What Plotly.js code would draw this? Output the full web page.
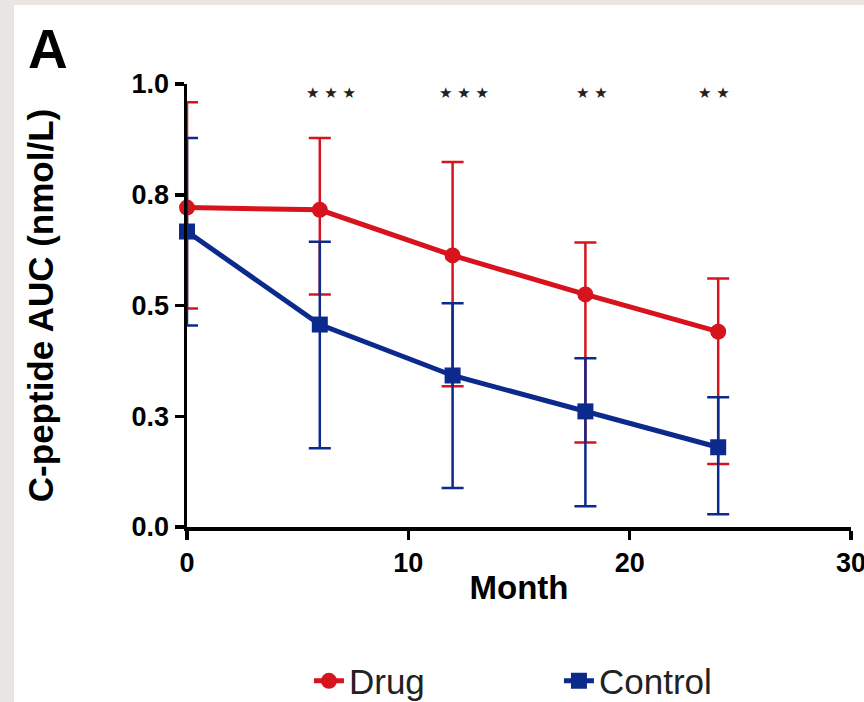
<!DOCTYPE html>
<html>
<head>
<meta charset="utf-8">
<script src="https://cdn.plot.ly/plotly-3.0.1.min.js"></script>
<style>
  html, body { margin: 0; padding: 0; background: #e8e5e2; width: 864px; height: 702px; overflow: hidden; }
  #chart { position: absolute; left: 14px; top: 5px; width: 850px; height: 697px; background: #ffffff; }
</style>
</head>
<body>
<div id="chart"></div>
<script>
// Data
var months = [0, 6, 12, 18, 24];

var drugMean  = [0.721, 0.716, 0.613, 0.525, 0.441];
var drugUpper = [0.959, 0.878, 0.824, 0.642, 0.561];
var drugLower = [0.493, 0.525, 0.318, 0.191, 0.142];

var ctrlMean  = [0.667, 0.457, 0.342, 0.261, 0.180];
var ctrlUpper = [0.878, 0.644, 0.505, 0.381, 0.293];
var ctrlLower = [0.455, 0.178, 0.088, 0.047, 0.029];

var sigMonths = [6.5, 12.5, 18.3, 23.8];
var sigLabels = ["★ ★ ★", "★ ★ ★", "★ ★", "★ ★"];
var sigY = 0.98;

var yTickVals = [0, 0.25, 0.5, 0.75, 1.0];
var yTickText = ["0.0", "0.3", "0.5", "0.8", "1.0"];
var xTickVals = [0, 10, 20, 30];

var RED = "#d7141e";
var BLUE = "#0c2a8c";
var FONT = "Liberation Sans, Arial, sans-serif";

function plus(u, m) { return u.map(function (v, i) { return +(v - m[i]).toFixed(3); }); }
function minus(l, m) { return l.map(function (v, i) { return +(m[i] - v).toFixed(3); }); }

var drug = {
  x: months, y: drugMean, name: "Drug", type: "scatter", mode: "lines+markers",
  line: { color: RED, width: 5 },
  marker: { color: RED, symbol: "circle", size: 16 },
  error_y: { type: "data", symmetric: false, array: plus(drugUpper, drugMean), arrayminus: minus(drugLower, drugMean),
             color: RED, thickness: 2.5, width: 11 },
  cliponaxis: false
};
var ctrl = {
  x: months, y: ctrlMean, name: "Control", type: "scatter", mode: "lines+markers",
  line: { color: BLUE, width: 5 },
  marker: { color: BLUE, symbol: "square", size: 16 },
  error_y: { type: "data", symmetric: false, array: plus(ctrlUpper, ctrlMean), arrayminus: minus(ctrlLower, ctrlMean),
             color: BLUE, thickness: 2.5, width: 11 },
  cliponaxis: false
};

var annotations = sigMonths.map(function (m, i) {
  return { x: m, y: sigY, xref: "x", yref: "y", text: sigLabels[i], showarrow: false,
           font: { family: "DejaVu Sans, sans-serif", size: 15, color: "#222" } };
});
annotations.push({ x: -0.242, y: 1.005, xref: "paper", yref: "paper", text: "<b>A</b>", showarrow: false,
                   xanchor: "left", yanchor: "bottom", font: { family: FONT, size: 55, color: "#000" } });

var layout = {
  width: 850, height: 697,
  paper_bgcolor: "#ffffff", plot_bgcolor: "#ffffff",
  margin: { l: 173, r: 13, t: 79, b: 175 },
  font: { family: FONT, color: "#000" },
  showlegend: true,
  legend: { orientation: "h", x: 0.347, y: 0.03, xref: "container", yref: "container",
            xanchor: "left", yanchor: "middle",
            font: { family: FONT, size: 35, color: "#222" }, entrywidth: 205, entrywidthmode: "pixels",
            bgcolor: "rgba(0,0,0,0)" },
  xaxis: {
    range: [0, 30], tickvals: xTickVals, ticktext: xTickVals.map(String),
    showgrid: false, zeroline: false, showline: true, linecolor: "#000", linewidth: 3.5,
    ticks: "outside", ticklen: 9, tickwidth: 3.5, tickcolor: "#000",
    ticklabeloverflow: "allow",
    tickfont: { family: FONT, size: 27, color: "#000", weight: "bold" },
    title: { text: "<b>Month</b>", font: { family: FONT, size: 33, color: "#000" }, standoff: 0 }
  },
  yaxis: {
    range: [0, 1.0], tickvals: yTickVals, ticktext: yTickText,
    showgrid: false, zeroline: false, showline: true, linecolor: "#000", linewidth: 3.5,
    ticks: "outside", ticklen: 9, tickwidth: 3.5, tickcolor: "#000",
    tickfont: { family: FONT, size: 27, color: "#000", weight: "bold" },
    title: { text: "<b>C-peptide AUC (nmol/L)</b>", font: { family: FONT, size: 35, color: "#000" }, standoff: 68 }
  },
  annotations: annotations
};

Plotly.newPlot("chart", [drug, ctrl], layout, { displayModeBar: false, staticPlot: true });
</script>
</body>
</html>
